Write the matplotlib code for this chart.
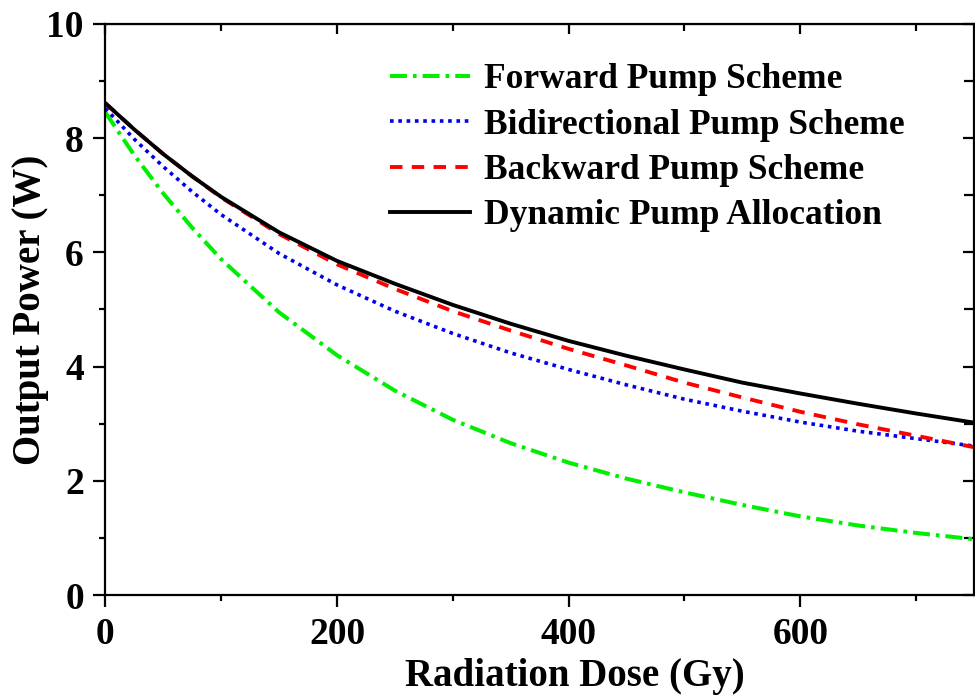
import numpy as np
import matplotlib
matplotlib.use('Agg')
import matplotlib.pyplot as plt
from matplotlib.ticker import MultipleLocator

plt.rcParams['font.family'] = 'Liberation Serif'
plt.rcParams['font.weight'] = 'bold'

# Values
dose = [0, 25, 50, 75, 100, 150, 200, 250, 300, 350, 400, 450, 500, 550, 600, 650, 700, 750]
forward = [8.45, 7.70, 7.03, 6.43, 5.88, 4.95, 4.20, 3.58, 3.07, 2.66, 2.32, 2.04, 1.80, 1.58, 1.38, 1.22, 1.09, 0.98]
bidirectional = [8.52, 7.98, 7.50, 7.06, 6.66, 5.98, 5.43, 4.97, 4.58, 4.24, 3.95, 3.68, 3.43, 3.22, 3.03, 2.87, 2.74, 2.61]
backward = [8.61, 8.15, 7.72, 7.33, 6.96, 6.32, 5.79, 5.36, 4.97, 4.63, 4.31, 4.02, 3.72, 3.46, 3.21, 2.99, 2.79, 2.59]
dynamic = [8.61, 8.15, 7.72, 7.33, 6.97, 6.35, 5.85, 5.45, 5.08, 4.75, 4.45, 4.19, 3.95, 3.72, 3.53, 3.35, 3.18, 3.02]

fig = plt.figure(figsize=(9.75, 6.97), dpi=100)
ax = fig.add_axes([0.108, 0.146, 0.891, 0.820])

ax.plot(dose, forward, color='#00ee00', lw=2.9, dashes=(4.2, 1.5, 0.9, 1.5), label='Forward Pump Scheme')
ax.plot(dose, bidirectional, color='#0000ee', lw=2.6, dashes=(1, 1.3), label='Bidirectional Pump Scheme')
ax.plot(dose, backward, color='#ff0000', lw=2.8, dashes=(3.2, 2.4), label='Backward Pump Scheme')
ax.plot(dose, dynamic, color='black', lw=2.8, label='Dynamic Pump Allocation')

ax.set_xlim(0, 750)
ax.set_ylim(0, 10)
ax.xaxis.set_major_locator(MultipleLocator(200))
ax.xaxis.set_minor_locator(MultipleLocator(100))
ax.yaxis.set_major_locator(MultipleLocator(2))
ax.yaxis.set_minor_locator(MultipleLocator(1))

for sp in ax.spines.values():
    sp.set_linewidth(1.6)

ax.tick_params(which='both', direction='out', width=1.6, labelsize=27, pad=7)
ax.tick_params(which='major', length=8.5)
ax.tick_params(which='minor', length=4.5)

# inward ticks on the top and right spines
top = ax.secondary_xaxis('top')
top.xaxis.set_major_locator(MultipleLocator(200))
top.xaxis.set_minor_locator(MultipleLocator(100))
top.tick_params(which='both', direction='in', width=1.6, labeltop=False)
top.tick_params(which='major', length=7)
top.tick_params(which='minor', length=5)
right = ax.secondary_yaxis('right')
right.yaxis.set_major_locator(MultipleLocator(2))
right.yaxis.set_minor_locator(MultipleLocator(1))
right.tick_params(which='both', direction='in', width=1.6, labelright=False)
right.tick_params(which='major', length=8)
right.tick_params(which='minor', length=7)

ax.set_xlabel('Radiation Dose (Gy)', fontsize=28, fontweight='bold')
ax.set_ylabel('Output Power (W)', fontsize=28, fontweight='bold')
ax.xaxis.set_label_coords(0.54, -0.110)
ax.yaxis.set_label_coords(-0.065, 0.5)

ax.legend(loc='upper left', bbox_to_anchor=(0.328, 0.931), frameon=False, fontsize=25.5,
          handlelength=2.25, handletextpad=0.4, labelspacing=0.35, borderaxespad=0, borderpad=0)

fig.savefig('out.png', dpi=100)
